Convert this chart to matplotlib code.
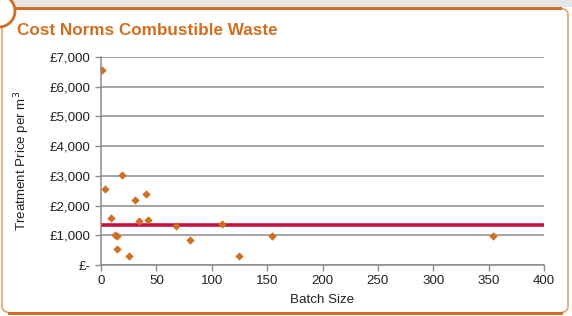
"""Cost norms scatter chart for combustible waste."""

import matplotlib.pyplot as plt
from matplotlib.patches import Ellipse, FancyBboxPatch, Rectangle
from matplotlib.ticker import FuncFormatter

plt.rcParams["font.family"] = ["Liberation Sans", "DejaVu Sans"]

# batch size vs treatment price per m3
batch_size = [1, 3.5, 19, 9, 12.5, 14.5, 14.5, 25.5, 31, 40.5, 34.5, 42.5,
              68, 80, 109, 125, 154, 354]
price = [6550, 2550, 3030, 1590, 1010, 980, 540, 300, 2200, 2390, 1480, 1530,
         1320, 830, 1390, 300, 970, 990]
norm_price = 1350
x_ticks = [0, 50, 100, 150, 200, 250, 300, 350, 400]
y_ticks = [0, 1000, 2000, 3000, 4000, 5000, 6000, 7000]

ORANGE = "#CF6F22"
W, H = 572, 316


def money(v, _pos):
    return "£-" if v == 0 else f"£{v:,.0f}"


fig = plt.figure(figsize=(W / 100, H / 100), dpi=100)

# panel frame
fig.patches.append(Rectangle((0, 1 - 7 / H), 1, 7 / H, transform=fig.transFigure,
                             facecolor="#E6E6E6", edgecolor="none", zorder=0))
fig.patches.append(FancyBboxPatch((2 / W, 3 / H), 566 / W, (H - 11) / H,
                                  boxstyle="round,pad=0,rounding_size=0.02",
                                  transform=fig.transFigure, facecolor="white",
                                  edgecolor="#E2A46E", linewidth=1.2, zorder=1))
fig.patches.append(Rectangle((2 / W, 1 - 10 / H), 560 / W, 3.5 / H,
                             transform=fig.transFigure, facecolor=ORANGE,
                             edgecolor="none", zorder=2))
fig.patches.append(Rectangle((8 / W, 1 / H), 555 / W, 3 / H,
                             transform=fig.transFigure, facecolor=ORANGE,
                             edgecolor="none", zorder=2))
fig.patches.append(Ellipse((-1 / W, 1 - 11 / H), 32 / W, 32 / H,
                           transform=fig.transFigure, facecolor="white",
                           edgecolor=ORANGE, linewidth=2, zorder=3))

fig.text(17 / W, 1 - 35 / H, "Cost Norms Combustible Waste", color=ORANGE,
         fontsize=12.3, fontweight="bold", va="baseline", ha="left")

ax = fig.add_axes([101 / W, 51 / H, 443 / W, 208 / H])
ax.set_zorder(10)
ax.patch.set_alpha(0)
ax.set_xlim(0, 400)
ax.set_ylim(0, 7000)
ax.set_xticks(x_ticks)
ax.set_yticks(y_ticks)
ax.yaxis.set_major_formatter(FuncFormatter(money))
ax.grid(axis="y", color="#8C8C8C", linewidth=1.1)
ax.set_axisbelow(True)
for side in ("top", "right"):
    ax.spines[side].set_visible(False)
for side in ("left", "bottom"):
    ax.spines[side].set_color("#8C8C8C")
    ax.spines[side].set_linewidth(1.1)
ax.tick_params(colors="#8C8C8C", labelcolor="#222222", labelsize=9.6, length=4,
               width=1)

ax.plot([0, 400], [norm_price, norm_price], color="#C8103E", linewidth=2.6,
        zorder=2)
ax.scatter(batch_size, price, marker="D", s=18, color=ORANGE, zorder=3,
           linewidths=0)

ax.set_xlabel("Batch Size", fontsize=9.6, color="#222222", labelpad=5)
ax.set_ylabel("Treatment Price per m$^3$", fontsize=9.6, color="#222222",
              labelpad=13)

fig.savefig("out.png", dpi=100)
